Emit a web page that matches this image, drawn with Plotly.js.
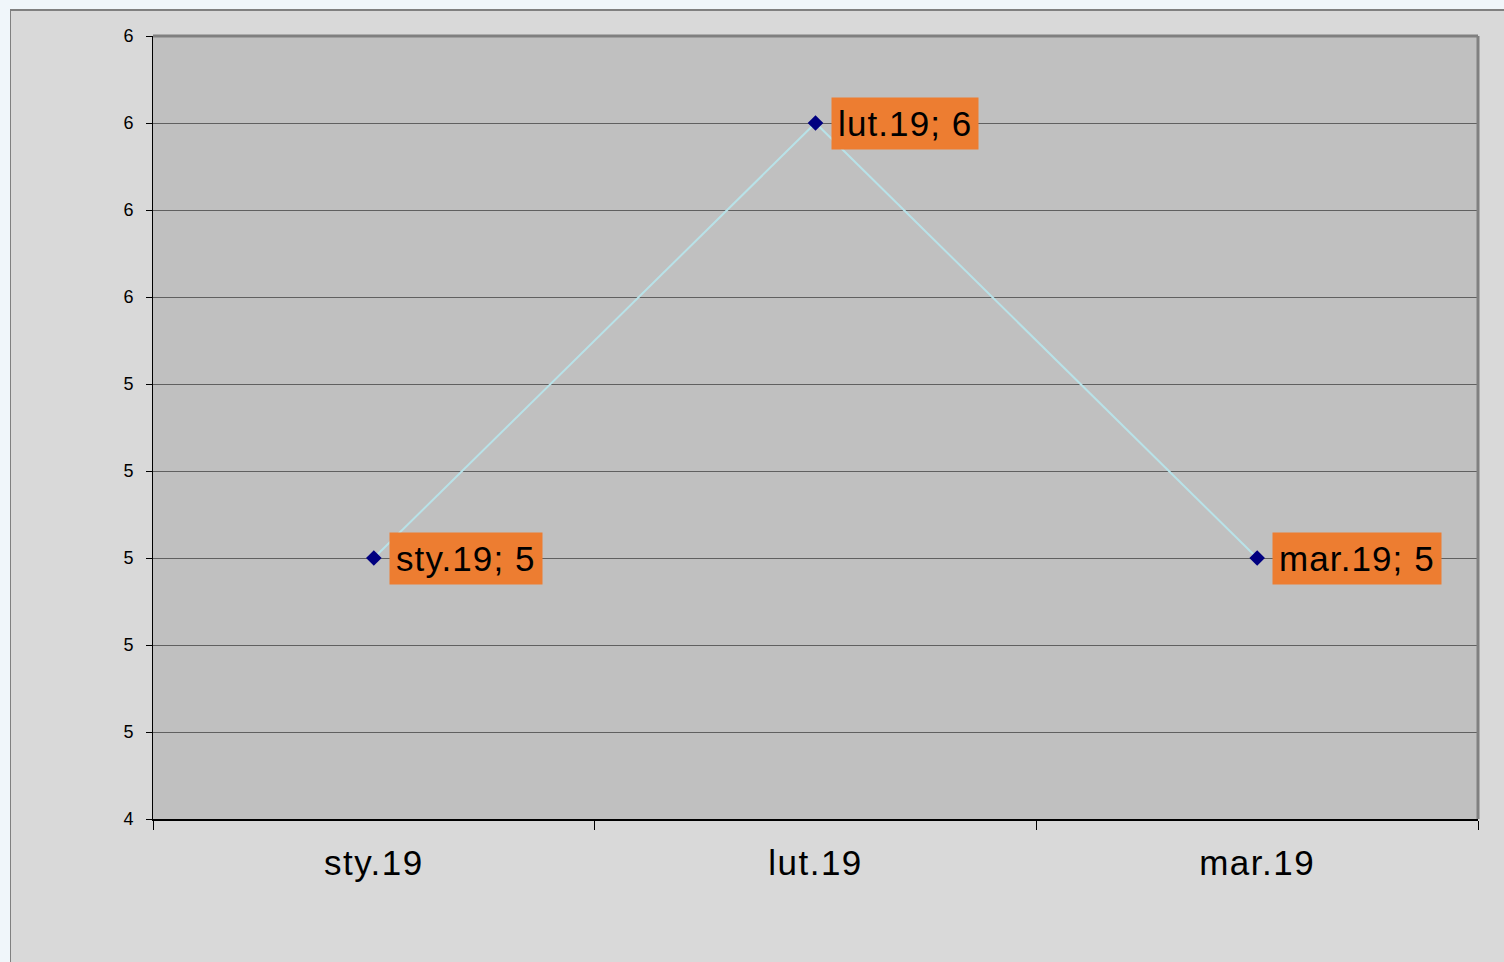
<!DOCTYPE html>
<html>
<head>
<meta charset="utf-8">
<script src="https://cdn.plot.ly/plotly-3.0.1.min.js"></script>
<style>
  html, body { margin: 0; padding: 0; background: #f0f6fa; width: 1504px; height: 962px; overflow: hidden; }
  #frame { position: absolute; left: 10px; top: 9px; width: 1494px; height: 953px;
           border-top: 2px solid #808080; border-left: 1px solid #808080; box-sizing: border-box; background: #d9d9d9; }
  #chart { position: absolute; left: 0; top: -2px; width: 1494px; height: 955px; }
  .annotation-text { letter-spacing: 1.1px; }
  .xtick text { letter-spacing: 1.5px; }
</style>
</head>
<body>
<div id="frame"><div id="chart"></div></div>
<script>
const categories = ['sty.19', 'lut.19', 'mar.19'];
const values = [5, 6, 5];
const labelTexts = ['sty.19; 5', 'lut.19; 6', 'mar.19; 5'];

const trace = {
  x: categories,
  y: values,
  type: 'scatter',
  mode: 'lines+markers',
  line: { color: '#b8e2e8', width: 2 },
  marker: { symbol: 'diamond', size: 12, color: '#000080' },
  hoverinfo: 'skip'
};

const annotations = categories.map((c, i) => ({
  x: c, y: values[i], xref: 'x', yref: 'y',
  text: labelTexts[i], showarrow: false,
  xanchor: 'left', yanchor: 'middle', xshift: 15,
  bgcolor: '#ed7d31', borderpad: 6,
  font: { family: 'Liberation Sans, Arial, sans-serif', size: 35, color: '#000000' }
}));

const layout = {
  width: 1494, height: 955,
  margin: { l: 142, r: 27, t: 27, b: 145 },
  paper_bgcolor: 'rgba(0,0,0,0)',
  plot_bgcolor: '#c0c0c0',
  showlegend: false,
  font: { family: 'Liberation Sans, Arial, sans-serif', color: '#000000' },
  xaxis: {
    type: 'category',
    range: [-0.5, 2.5],
    tickson: 'boundaries',
    ticks: 'outside', ticklen: 9, tickcolor: '#000000', tickwidth: 1,
    showline: true, linecolor: '#000000', linewidth: 2,
    showgrid: false, zeroline: false,
    tickfont: { size: 35, color: '#000000' },
    ticklabelstandoff: 12
  },
  yaxis: {
    range: [4.4, 6.2],
    dtick: 0.2, tick0: 4.4,
    tickformat: '.0f',
    ticks: 'outside', ticklen: 6, tickcolor: '#000000', tickwidth: 1,
    showline: true, linecolor: '#000000', linewidth: 1,
    showgrid: true, gridcolor: '#606060', gridwidth: 1,
    zeroline: false,
    tickfont: { size: 18, color: '#000000' },
    ticklabelstandoff: 9
  },
  shapes: [
    { type: 'line', xref: 'paper', yref: 'paper', x0: 0, x1: 1, y0: 1, y1: 1,
      line: { color: '#808080', width: 3 } },
    { type: 'line', xref: 'paper', yref: 'paper', x0: 1, x1: 1, y0: 0, y1: 1,
      line: { color: '#808080', width: 3 } }
  ],
  annotations: annotations
};

Plotly.newPlot('chart', [trace], layout, { displayModeBar: false, staticPlot: true });
</script>
</body>
</html>
